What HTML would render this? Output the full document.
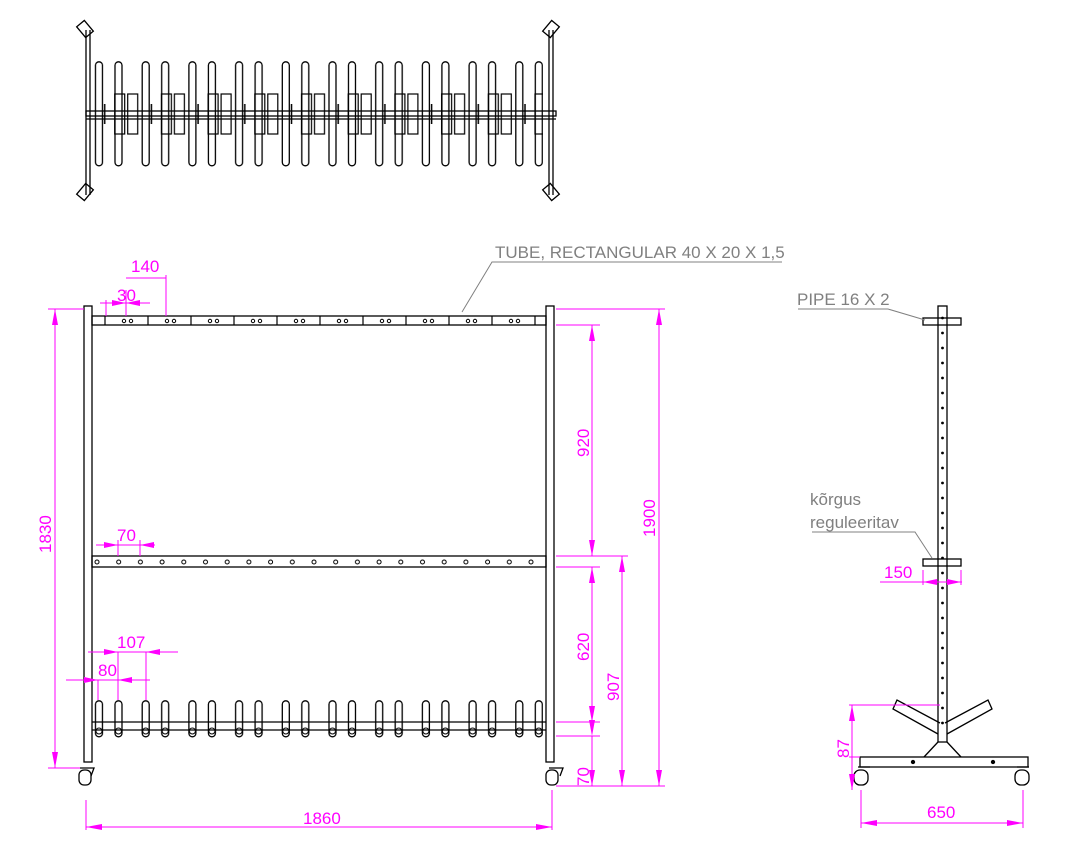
<!DOCTYPE html>
<html><head><meta charset="utf-8"><style>
html,body{margin:0;padding:0;background:#fff;}
svg{display:block;}
text{font-family:"Liberation Sans",sans-serif;}
</style></head><body>
<svg width="1079" height="864" viewBox="0 0 1079 864" xmlns="http://www.w3.org/2000/svg">
<defs>
<pattern id="pegB" patternUnits="userSpaceOnUse" x="94.7" y="700" width="46.7" height="38">
<rect x="0.8" y="0.8" width="7" height="36" rx="3.5" fill="none" stroke="#000" stroke-width="1.3"/>
<rect x="20.3" y="0.8" width="7" height="36" rx="3.5" fill="none" stroke="#000" stroke-width="1.3"/>
<circle cx="4.3" cy="31" r="3" fill="none" stroke="#000"/><circle cx="23.8" cy="31" r="3" fill="none" stroke="#000"/>
</pattern>
<pattern id="pegT" patternUnits="userSpaceOnUse" x="94.7" y="61" width="46.7" height="107">
<rect x="0.8" y="0.8" width="7" height="104" rx="3.5" fill="none" stroke="#000" stroke-width="1.3"/>
<rect x="20.3" y="0.8" width="7" height="104" rx="3.5" fill="none" stroke="#000" stroke-width="1.3"/>
<rect x="20" y="33" width="10" height="40" fill="none" stroke="#000" stroke-width="1.2"/>
<rect x="33" y="33" width="10" height="40" fill="none" stroke="#000" stroke-width="1.2"/>
<line x1="10" y1="43" x2="10" y2="63" stroke="#000" stroke-width="1.5"/>
</pattern>
<pattern id="holesT" patternUnits="userSpaceOnUse" x="120" y="316" width="43" height="9">
<circle cx="4" cy="5" r="1.7" fill="none" stroke="#000"/><circle cx="11" cy="5" r="1.7" fill="none" stroke="#000"/>
<line x1="28" y1="0" x2="28" y2="9" stroke="#000" stroke-width="1.2"/>
</pattern>
<pattern id="holesM" patternUnits="userSpaceOnUse" x="92" y="556" width="21.7" height="11">
<circle cx="5" cy="6" r="2" fill="none" stroke="#000"/>
</pattern>
<pattern id="dots" patternUnits="userSpaceOnUse" x="938" y="311" width="9" height="15">
<circle cx="4.5" cy="7" r="1.4" fill="#000"/>
</pattern>
</defs>
<rect x="92" y="700" width="451" height="38" fill="url(#pegB)"/>
<rect x="92" y="61" width="451" height="107" fill="url(#pegT)"/>
<rect x="92" y="316" width="453" height="9" fill="url(#holesT)"/>
<rect x="92" y="556" width="449" height="11" fill="url(#holesM)"/>
<rect x="938" y="311" width="9" height="420" fill="url(#dots)"/>
<g fill="none" stroke="#000" stroke-width="1.3">
<line x1="86" y1="30" x2="86" y2="195"/><line x1="90" y1="30" x2="90" y2="195"/>
<line x1="549" y1="30" x2="549" y2="195"/><line x1="553" y1="30" x2="553" y2="195"/>
<rect x="86" y="111" width="470" height="5"/><line x1="86" y1="119" x2="556" y2="119"/>
<rect x="78" y="24" width="14" height="10" transform="rotate(50 85 29)"/>
<rect x="78" y="187" width="14" height="10" transform="rotate(-50 85 192)"/>
<rect x="544" y="24" width="14" height="10" transform="rotate(-50 551 29)"/>
<rect x="544" y="187" width="14" height="10" transform="rotate(50 551 192)"/>
<rect x="84" y="306" width="8" height="456"/>
<rect x="546" y="306" width="8" height="456"/>
<rect x="92" y="316" width="454" height="9"/>
<rect x="92" y="556" width="454" height="11"/>
<line x1="92" y1="722" x2="546" y2="722"/><line x1="92" y1="730" x2="546" y2="730"/>
<path d="M80 768 h14 l-3 8 M549 768 h14 l-3 8"/>
<rect x="79" y="770" width="12" height="15" rx="5"/>
<rect x="546" y="770" width="12" height="15" rx="5"/>
<rect x="938" y="306" width="9" height="436"/>
<rect x="923" y="318" width="38" height="7"/>
<rect x="923" y="559" width="38" height="7"/>
<rect x="860" y="757" width="168" height="10"/>
<path d="M924 757 L938 742 M961 757 L947 742"/>
<path d="M938 734 L893 709 L897 700 L940 723"/>
<path d="M947 734 L992 709 L988 700 L945 723"/>
<rect x="854" y="770" width="14" height="15" rx="6"/><path d="M858 767 h12 M1017 767 h12"/>
<rect x="1015" y="770" width="14" height="15" rx="6"/>
<circle cx="913" cy="762" r="1.5" fill="#000"/><circle cx="993" cy="762" r="1.5" fill="#000"/>
</g>
<g stroke="#ff00ff" stroke-width="1" fill="none">
<line x1="86" y1="800" x2="86" y2="830"/><line x1="552" y1="790" x2="552" y2="830"/>
<line x1="86" y1="827" x2="552" y2="827"/>
<line x1="48" y1="309" x2="84" y2="309"/><line x1="48" y1="768" x2="80" y2="768"/>
<line x1="55" y1="309" x2="55" y2="768"/>
<line x1="556" y1="309" x2="665" y2="309"/><line x1="556" y1="786" x2="665" y2="786"/>
<line x1="659" y1="309" x2="659" y2="786"/>
<line x1="556" y1="325" x2="600" y2="325"/><line x1="556" y1="556" x2="628" y2="556"/>
<line x1="592" y1="325" x2="592" y2="556"/>
<line x1="556" y1="567" x2="600" y2="567"/><line x1="556" y1="722" x2="600" y2="722"/>
<line x1="592" y1="567" x2="592" y2="722"/>
<line x1="622" y1="556" x2="622" y2="786"/>
<line x1="556" y1="736" x2="600" y2="736"/><line x1="592" y1="736" x2="592" y2="786"/>
<line x1="106" y1="300" x2="106" y2="316"/><line x1="126" y1="290" x2="126" y2="316"/><line x1="166" y1="275" x2="166" y2="316"/>
<line x1="100" y1="303" x2="150" y2="303"/><line x1="126" y1="278" x2="166" y2="278"/>
<line x1="96" y1="545" x2="155" y2="545"/><line x1="118" y1="540" x2="118" y2="556"/><line x1="140" y1="540" x2="140" y2="556"/>
<line x1="88" y1="652" x2="178" y2="652"/><line x1="118" y1="652" x2="118" y2="700"/><line x1="146" y1="652" x2="146" y2="700"/>
<line x1="66" y1="680" x2="150" y2="680"/><line x1="98" y1="680" x2="98" y2="700"/>
<line x1="849" y1="705" x2="940" y2="705"/><line x1="849" y1="757" x2="860" y2="757"/>
<line x1="852" y1="705" x2="852" y2="790"/>
<line x1="861" y1="790" x2="861" y2="828"/><line x1="1023" y1="790" x2="1023" y2="828"/>
<line x1="861" y1="823" x2="1023" y2="823"/>
<line x1="880" y1="582" x2="962" y2="582"/><line x1="923" y1="570" x2="923" y2="585"/><line x1="961" y1="570" x2="961" y2="585"/>
</g>
<g fill="#ff00ff">
<path d="M86 827 l16 -3 v6z M552 827 l-16 -3 v6z"/>
<path d="M55 309 l-3 16 h6z M55 768 l-3 -16 h6z"/>
<path d="M659 309 l-3 16 h6z M659 786 l-3 -16 h6z"/>
<path d="M592 325 l-3 16 h6z M592 556 l-3 -16 h6z M592 567 l-3 16 h6z M592 722 l-3 -16 h6z"/>
<path d="M622 556 l-3 16 h6z M622 786 l-3 -16 h6z M592 786 l-3 -16 h6z M592 736 l-3 -16 h6z"/>
<path d="M852 705 l-3 16 h6z M852 790 l-3 -16 h6z M861 823 l16 -3 v6z M1023 823 l-16 -3 v6z"/>
<path d="M126 303 l-14 -3 v6z M126 303 l14 -3 v6z M98 680 l-14 -3 v6z M118 680 l14 -3 v6z M118 652 l-14 -3 v6z M146 652 l14 -3 v6z M118 545 l-14 -3 v6z M140 545 l14 -3 v6z M923 582 l14 -3 v6z M961 582 l-14 -3 v6z"/>
</g>
<g fill="#ff00ff" font-size="17">
<text x="303" y="824">1860</text>
<text x="927" y="818">650</text>
<text x="884" y="578">150</text>
<text transform="translate(51 553) rotate(-90)">1830</text>
<text transform="translate(655 537) rotate(-90)">1900</text>
<text transform="translate(589 457) rotate(-90)">920</text>
<text transform="translate(589 661) rotate(-90)">620</text>
<text transform="translate(619 701) rotate(-90)">907</text>
<text transform="translate(589 786) rotate(-90)">70</text>
<text transform="translate(849 758) rotate(-90)">87</text>
<text x="131" y="272">140</text><text x="117" y="301">30</text>
<text x="117" y="541">70</text><text x="117" y="648">107</text><text x="98" y="676">80</text>
</g>
<g fill="#808080" font-size="17">
<text x="495" y="258">TUBE, RECTANGULAR 40 X 20 X 1,5</text>
<text x="797" y="305">PIPE 16 X 2</text>
<text x="810" y="505">kõrgus</text>
<text x="810" y="528">reguleeritav</text>
</g>
<g stroke="#808080" stroke-width="1" fill="none">
<path d="M782 262 H492 L462 312"/><path d="M798 309 H888 L925 320"/><path d="M812 532 H915 L932 558"/>
</g>
</svg>
</body></html>
